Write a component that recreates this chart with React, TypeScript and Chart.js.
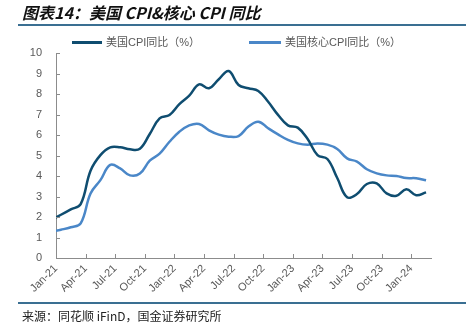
import React, { useEffect, useRef } from 'react';
import { Chart, registerables } from 'chart.js';

Chart.register(...registerables);

const TICK_LABELS = ['Jan-21', 'Apr-21', 'Jul-21', 'Oct-21', 'Jan-22', 'Apr-22', 'Jul-22', 'Oct-22', 'Jan-23', 'Apr-23', 'Jul-23', 'Oct-23', 'Jan-24'];

const MONTHS = [
  'Dec-20',
  'Jan-21', 'Feb-21', 'Mar-21', 'Apr-21', 'May-21', 'Jun-21', 'Jul-21', 'Aug-21', 'Sep-21', 'Oct-21', 'Nov-21', 'Dec-21',
  'Jan-22', 'Feb-22', 'Mar-22', 'Apr-22', 'May-22', 'Jun-22', 'Jul-22', 'Aug-22', 'Sep-22', 'Oct-22', 'Nov-22', 'Dec-22',
  'Jan-23', 'Feb-23', 'Mar-23', 'Apr-23', 'May-23', 'Jun-23', 'Jul-23', 'Aug-23', 'Sep-23', 'Oct-23', 'Nov-23', 'Dec-23',
  'Jan-24', 'Feb-24',
];

const CPI = [
  1.85,
  2.11, 2.37, 2.63, 4.26, 5.02, 5.40, 5.40, 5.30, 5.33, 6.05, 6.81, 6.98,
  7.51, 7.92, 8.47, 8.28, 8.72, 9.12, 8.44, 8.28, 8.15, 7.62, 6.98, 6.47,
  6.36, 5.80, 5.02, 4.83, 3.90, 2.96, 3.12, 3.61, 3.64, 3.15, 3.04, 3.35,
  3.06, 3.20,
];

const CORE = [
  1.28,
  1.38, 1.50, 1.69, 3.15, 3.80, 4.54, 4.37, 4.03, 4.12, 4.75, 5.09, 5.67,
  6.16, 6.47, 6.54, 6.23, 6.02, 5.92, 5.95, 6.41, 6.65, 6.33, 6.03, 5.76,
  5.59, 5.53, 5.59, 5.53, 5.32, 4.86, 4.70, 4.33, 4.13, 4.03, 4.00, 3.90,
  3.89, 3.79,
];

const SERIES_NAMES = ['美国CPI同比（%）', '美国核心CPI同比（%）'];
const COLORS = ['#0f4d70', '#4a87c8'];
const AXIS_COLOR = '#8c8c8c';
const TEXT_COLOR = '#595959';
const RULE_COLOR = '#3a6f92';

const innerTicks = {
  id: 'innerTicks',
  afterDraw(chart: any) {
    const { ctx, chartArea } = chart;
    const xs = chart.scales.x;
    const ys = chart.scales.y;
    ctx.save();
    ctx.strokeStyle = AXIS_COLOR;
    ctx.lineWidth = 1;
    xs.ticks.forEach((t: any) => {
      const px = Math.round(xs.getPixelForValue(t.value)) + 0.5;
      ctx.beginPath();
      ctx.moveTo(px, chartArea.bottom);
      ctx.lineTo(px, chartArea.bottom - 4);
      ctx.stroke();
    });
    ys.ticks.forEach((t: any) => {
      const py = Math.round(ys.getPixelForValue(t.value)) + 0.5;
      ctx.beginPath();
      ctx.moveTo(chartArea.left, py);
      ctx.lineTo(chartArea.left + 4, py);
      ctx.stroke();
    });
    ctx.restore();
  },
};

export default function App() {
  const ref = useRef<HTMLCanvasElement | null>(null);

  useEffect(() => {
    if (!ref.current) return;
    const toPoints = (arr: number[]) => MONTHS.map((_, k) => ({ x: k - 0.5, y: arr[k] }));
    const tickFont = { size: 11, family: '"Liberation Sans", Arial, sans-serif' };
    const chart = new Chart(ref.current, {
      type: 'line',
      data: {
        datasets: [
          {
            label: SERIES_NAMES[0],
            data: toPoints(CPI),
            borderColor: COLORS[0],
            backgroundColor: COLORS[0],
            borderWidth: 2.5,
            pointRadius: 0,
            tension: 0.4,
            fill: false,
          },
          {
            label: SERIES_NAMES[1],
            data: toPoints(CORE),
            borderColor: COLORS[1],
            backgroundColor: COLORS[1],
            borderWidth: 2.5,
            pointRadius: 0,
            tension: 0.4,
            fill: false,
          },
        ],
      },
      options: {
        animation: false,
        responsive: false,
        devicePixelRatio: 1,
        layout: { padding: { top: 53, left: 0, right: 35, bottom: 0 } },
        plugins: { legend: { display: false }, tooltip: { enabled: false } },
        scales: {
          x: {
            type: 'linear',
            min: 0,
            max: 38,
            afterFit: (s: any) => { s.height = 65; },
            grid: { display: false, drawTicks: false },
            border: { display: true, color: AXIS_COLOR, width: 1 },
            ticks: {
              stepSize: 3,
              includeBounds: false,
              autoSkip: false,
              minRotation: 45,
              maxRotation: 45,
              padding: 4,
              color: TEXT_COLOR,
              font: tickFont,
              callback: (v: any) => TICK_LABELS[Math.round(v / 3)] ?? '',
            },
          },
          y: {
            min: 0,
            max: 10,
            afterFit: (s: any) => { s.width = 56; },
            grid: { display: false, drawTicks: false },
            border: { display: true, color: AXIS_COLOR, width: 1 },
            ticks: {
              stepSize: 1,
              padding: 14,
              color: TEXT_COLOR,
              font: tickFont,
            },
          },
        },
      },
      plugins: [innerTicks],
    } as any);
    return () => chart.destroy();
  }, []);

  const legendText: React.CSSProperties = {
    position: 'absolute',
    top: 36,
    fontSize: 11,
    lineHeight: '13px',
    color: TEXT_COLOR,
    fontFamily: '"Liberation Sans", "Noto Sans CJK SC", sans-serif',
    whiteSpace: 'nowrap',
  };

  return (
    <div style={{ position: 'fixed', left: 0, top: 0, width: 466, height: 323, background: '#fff', overflow: 'hidden' }}>
      <canvas ref={ref} width={466} height={323} style={{ position: 'absolute', left: 0, top: 0, width: 466, height: 323 }} />
      <div
        style={{
          position: 'absolute', left: 22, top: 2, fontSize: 16, lineHeight: '20px',
          fontWeight: 'bold', fontStyle: 'italic', color: '#111',
          fontFamily: '"Noto Sans CJK SC", sans-serif', whiteSpace: 'nowrap',
        }}
      >
        图表14：美国 CPI&amp;核心 CPI 同比
      </div>
      <div style={{ position: 'absolute', left: 18, top: 24, width: 448, height: 2, background: RULE_COLOR }} />
      <div style={{ position: 'absolute', left: 72, top: 41, width: 30, height: 3, background: COLORS[0] }} />
      <div style={{ ...legendText, left: 106 }}>{SERIES_NAMES[0]}</div>
      <div style={{ position: 'absolute', left: 249, top: 41, width: 32, height: 3, background: COLORS[1] }} />
      <div style={{ ...legendText, left: 285 }}>{SERIES_NAMES[1]}</div>
      <div style={{ position: 'absolute', left: 18, top: 302, width: 448, height: 2, background: RULE_COLOR }} />
      <div
        style={{
          position: 'absolute', left: 22, top: 308, fontSize: 12, lineHeight: '15px',
          color: '#222', fontFamily: '"Noto Sans CJK SC", sans-serif', whiteSpace: 'nowrap',
        }}
      >
        来源：同花顺 iFinD，国金证券研究所
      </div>
    </div>
  );
}
